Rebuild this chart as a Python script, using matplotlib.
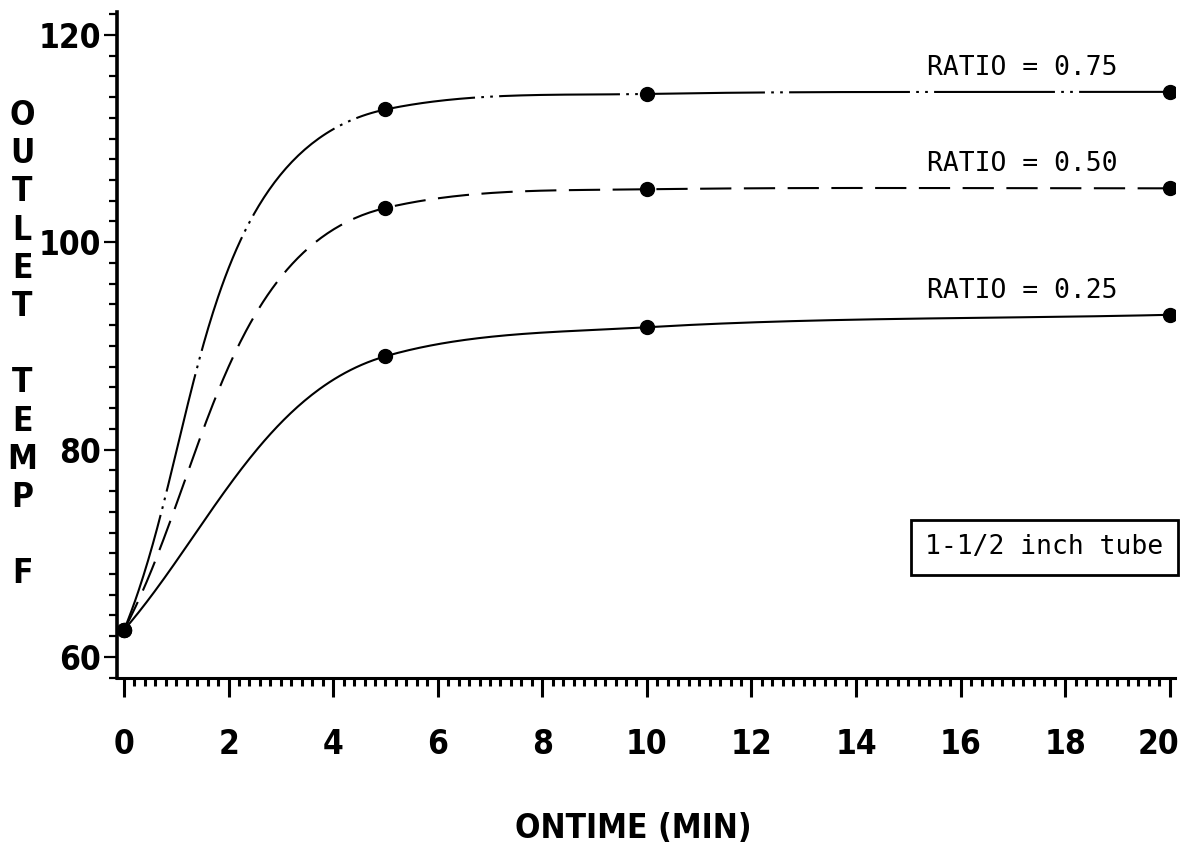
import numpy as np
import matplotlib
matplotlib.use('Agg')
import matplotlib.pyplot as plt
import matplotlib.transforms as mtransforms
from matplotlib.ticker import MultipleLocator

# values
ontime = [0, 5, 10, 20]
temp_075 = [62.6, 112.8, 114.3, 114.5]
temp_050 = [62.6, 103.3, 105.1, 105.2]
temp_025 = [62.6, 89.0, 91.8, 93.0]
ratio_labels = ['RATIO = 0.75', 'RATIO = 0.50', 'RATIO = 0.25']
x_ticks = [0, 2, 4, 6, 8, 10, 12, 14, 16, 18, 20]
y_ticks = [60, 80, 100, 120]
tube_label = '1-1/2 inch tube'

BOLD = dict(family=['DejaVu Sans'], stretch='condensed', weight='bold')
MONO = ['DejaVu Sans Mono']


def hermite_curve(ax, x, y, n=120, k=0.1):
    """smooth pen-plotter style curve through the points, computed in display space"""
    P = ax.transData.transform(np.column_stack([x, y]))
    chords = np.diff(P, axis=0)
    L = np.hypot(chords[:, 0], chords[:, 1])
    U = chords / L[:, None]
    dx = chords[:, 0]
    d = chords[:, 1] / dx
    T = np.zeros_like(P)
    for i in range(1, len(P) - 1):
        # slope leaning towards the shorter chord ...
        t = U[i - 1] / L[i - 1] + U[i] / L[i]
        m_lean = t[1] / t[0]
        # ... tempered by a pchip-style harmonic mean to stop wiggles
        w1 = 2 * dx[i] + dx[i - 1]
        w2 = dx[i] + 2 * dx[i - 1]
        m_harm = (w1 + w2) / (w1 / d[i - 1] + w2 / d[i]) if d[i - 1] * d[i] > 0 else 0.0
        m = np.sign(m_lean) * np.sqrt(abs(m_lean * m_harm))
        T[i] = np.array([1.0, m]) / np.hypot(1.0, m)
    T[0] = U[0] + k * (U[0] - T[1])
    T[-1] = U[-1]
    out = []
    s = np.linspace(0, 1, n)[:, None]
    h00 = 2 * s ** 3 - 3 * s ** 2 + 1
    h10 = s ** 3 - 2 * s ** 2 + s
    h01 = -2 * s ** 3 + 3 * s ** 2
    h11 = s ** 3 - s ** 2
    for i in range(len(P) - 1):
        seg = h00 * P[i] + h10 * L[i] * T[i] + h01 * P[i + 1] + h11 * L[i] * T[i + 1]
        out.append(seg if i == 0 else seg[1:])
    return ax.transData.inverted().transform(np.vstack(out))


fig = plt.figure(figsize=(11.84, 8.47), dpi=100)
ax = fig.add_axes([0.0988, 0.1995, 0.8936, 0.7863])
ax.set_xlim(-0.134, 20.1)
ax.set_ylim(57.97, 122.2)

series = [
    (temp_075, (0, (58, 3, 1.3, 3, 1.3, 3))),
    (temp_050, (0, (15, 6))),
    (temp_025, '-'),
]
for (temps, ls), label in zip(series, ratio_labels):
    curve = hermite_curve(ax, ontime, temps)
    ax.plot(curve[:, 0], curve[:, 1], color='black', lw=1.5, linestyle=ls)
    ax.plot(ontime, temps, 'o', color='black', ms=10)
    ax.text(19.0, temps[-1] + 2.3, label, ha='right', va='center',
            fontsize=19, family=MONO)

ax.text(17.6, 70.6, tube_label, ha='center', va='center', fontsize=19, family=MONO,
        bbox=dict(boxstyle='square,pad=0.55', fc='white', ec='black', lw=2))

for side in ['top', 'right']:
    ax.spines[side].set_visible(False)
ax.spines['left'].set_linewidth(2.6)
ax.spines['bottom'].set_linewidth(2.2)

ax.set_xticks(x_ticks)
ax.set_xticklabels([str(v) for v in x_ticks])
ax.xaxis.set_minor_locator(MultipleLocator(0.2))
ax.set_yticks(y_ticks)
ax.set_yticklabels([str(v) for v in y_ticks])
ax.yaxis.set_minor_locator(MultipleLocator(2))

ax.tick_params(axis='x', which='major', direction='out', length=14, width=2.2, pad=22)
ax.tick_params(axis='x', which='minor', direction='out', length=6, width=2.2)
ax.tick_params(axis='y', which='major', direction='out', length=9.5, width=1.6, pad=2)
ax.tick_params(axis='y', which='minor', direction='out', length=5.5, width=1.6)
for lab in ax.get_xticklabels() + ax.get_yticklabels():
    lab.set_fontfamily(BOLD['family'])
    lab.set_fontstretch(BOLD['stretch'])
    lab.set_fontweight('bold')
    lab.set_fontsize(24)

# keep the last x label inside the figure edge
last = ax.xaxis.get_major_ticks()[-1].label1
last.set_transform(last.get_transform()
                   + mtransforms.ScaledTranslation(-8 / 72, 0, fig.dpi_scale_trans))

fig.text(0.5346, 0.0224, 'ONTIME (MIN)', ha='center', va='center', fontsize=24, **BOLD)
fig.text(0.0186, 0.593, '\n'.join('OUTLET TEMP F'), ha='center', va='center',
         fontsize=24, linespacing=1.2, **BOLD)

fig.savefig('out.png', dpi=100)
